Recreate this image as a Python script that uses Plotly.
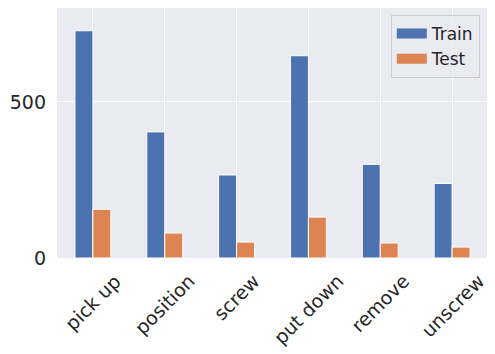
import plotly.graph_objects as go

actions = ['pick up', 'position', 'screw', 'put down', 'remove', 'unscrew']
train = [728, 404, 266, 648, 300, 239]
test = [156, 80, 51, 131, 48, 35]

blue = '#4C72B0'
orange = '#DD8452'

fig = go.Figure()
fig.add_trace(go.Bar(x=actions, y=train, name='Train', showlegend=False,
                     marker=dict(color=blue, line=dict(color='white', width=1))))
fig.add_trace(go.Bar(x=actions, y=test, name='Test', showlegend=False,
                     marker=dict(color=orange, line=dict(color='white', width=1))))

# legend entries drawn as thick lines so they look like matplotlib patches
for name, col in [('Train', blue), ('Test', orange)]:
    fig.add_trace(go.Scatter(x=[None], y=[None], mode='lines', name=name,
                             line=dict(color=col, width=11)))

# rotated tick labels centred under each category (matplotlib style)
for a in actions:
    fig.add_annotation(x=a, y=0, xref='x', yref='paper', text=a, showarrow=False,
                       textangle=-45, xanchor='center', yanchor='top', yshift=-9,
                       font=dict(size=19, family='DejaVu Sans', color='#262626'))

# page body has an 8px margin, so the figure is sized a bit smaller
fig.update_layout(
    width=487, height=346,
    margin=dict(l=49, r=7, t=0, b=96, autoexpand=False),
    barmode='group', bargap=0.5, bargroupgap=0,
    plot_bgcolor='#EAEAF2', paper_bgcolor='white',
    font=dict(family='DejaVu Sans', color='#262626', size=19),
    legend=dict(x=0.981, y=0.972, xanchor='right', yanchor='top',
                bgcolor='rgba(234,234,242,0.8)', bordercolor='#CCCCCC', borderwidth=1,
                font=dict(size=17), tracegroupgap=0),
)
fig.update_xaxes(showticklabels=False, showgrid=True, gridcolor='white', gridwidth=1,
                 range=[-0.5, 5.5], ticks='', showline=False, zeroline=False, automargin=False)
fig.update_yaxes(range=[0, 801], dtick=500, showgrid=True, gridcolor='white', gridwidth=1,
                 zeroline=False, ticks='', showline=False, automargin=False, ticklabelstandoff=10)

fig.write_html('out.html')
